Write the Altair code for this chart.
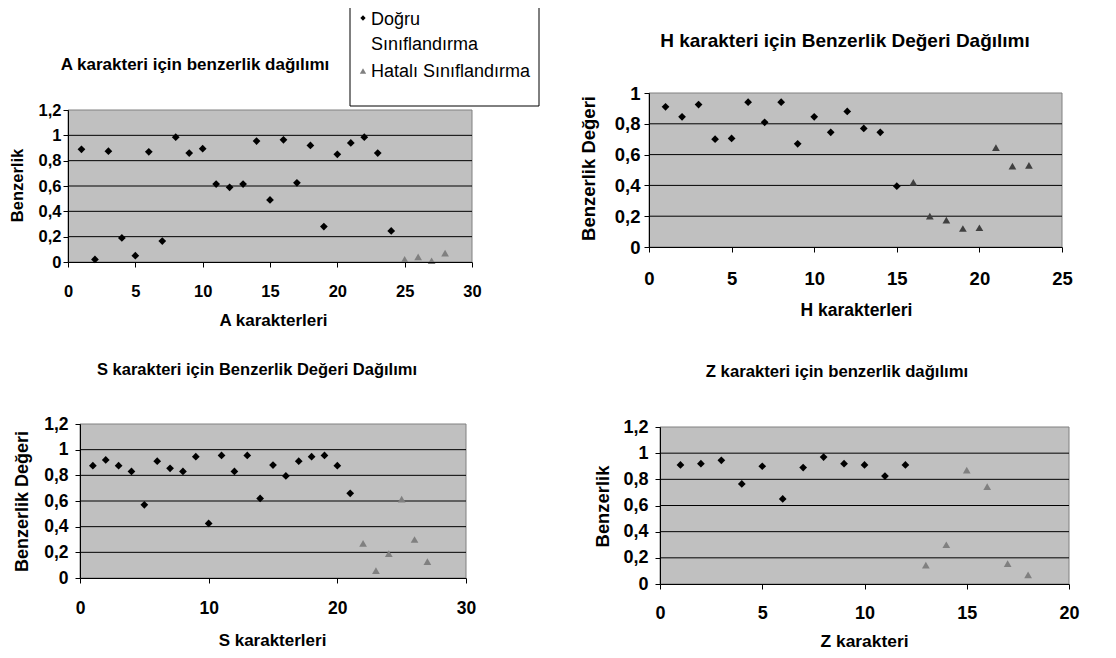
import altair as alt
import pandas as pd

FONT = "Liberation Sans"
CW, CH = 1100, 642

# ---------------- data ----------------
# A
A_x_dogru = [1, 2, 3, 4, 5, 6, 7, 8, 9, 10, 11, 12, 13, 14, 15, 16, 17, 18, 19, 20, 21, 22, 23, 24]
A_y_dogru = [0.89, 0.02, 0.875, 0.19, 0.05, 0.87, 0.165, 0.985, 0.86, 0.895, 0.615, 0.59,
             0.615, 0.955, 0.49, 0.965, 0.625, 0.92, 0.28, 0.85, 0.94, 0.985, 0.86, 0.245]
A_x_hatali = [25, 26, 27, 28]
A_y_hatali = [0.02, 0.04, 0.01, 0.07]

# H
H_x_dogru = [1, 2, 3, 4, 5, 6, 7, 8, 9, 10, 11, 12, 13, 14, 15]
H_y_dogru = [0.91, 0.845, 0.925, 0.70, 0.705, 0.94, 0.81, 0.94, 0.67, 0.845, 0.745, 0.88,
             0.77, 0.745, 0.395]
H_x_hatali = [16, 17, 18, 19, 20, 21, 22, 23]
H_y_hatali = [0.42, 0.2, 0.175, 0.12, 0.125, 0.645, 0.525, 0.53]

# S
S_x_dogru = [1, 2, 3, 4, 5, 6, 7, 8, 9, 10, 11, 12, 13, 14, 15, 16, 17, 18, 19, 20, 21]
S_y_dogru = [0.875, 0.92, 0.875, 0.83, 0.57, 0.91, 0.855, 0.83, 0.945, 0.425, 0.955, 0.83,
             0.955, 0.62, 0.88, 0.795, 0.91, 0.945, 0.955, 0.875, 0.66]
S_x_hatali = [22, 23, 24, 25, 26, 27]
S_y_hatali = [0.27, 0.057, 0.19, 0.615, 0.3, 0.127]

# Z
Z_x_dogru = [1, 2, 3, 4, 5, 6, 7, 8, 9, 10, 11, 12]
Z_y_dogru = [0.91, 0.92, 0.945, 0.765, 0.9, 0.65, 0.89, 0.97, 0.92, 0.91, 0.825, 0.91]
Z_x_hatali = [13, 14, 15, 16, 17, 18]
Z_y_hatali = [0.145, 0.3, 0.87, 0.745, 0.155, 0.07]

# titles / ticks
TITLES = ["A karakteri için benzerlik dağılımı",
          "H karakteri için Benzerlik Değeri Dağılımı",
          "S karakteri için Benzerlik Değeri Dağılımı",
          "Z karakteri için benzerlik dağılımı"]
X_TITLES = ["A karakterleri", "H karakterleri", "S karakterleri", "Z karakteri"]
Y_TITLES = ["Benzerlik", "Benzerlik Değeri", "Benzerlik Değeri", "Benzerlik"]
LEGEND = ["Doğru Sınıflandırma", "Hatalı Sınıflandırma"]

Y_TICKS_12 = [0, 0.2, 0.4, 0.6, 0.8, 1, 1.2]
Y_TICKS_10 = [0, 0.2, 0.4, 0.6, 0.8, 1]
GRID_12 = [0.2, 0.4, 0.6, 0.8, 1]
GRID_10 = [0.2, 0.4, 0.6, 0.8]
X_TICKS_A = [0, 5, 10, 15, 20, 25, 30]
X_TICKS_H = [0, 5, 10, 15, 20, 25]
X_TICKS_S = [0, 10, 20, 30]
X_TICKS_Z = [0, 5, 10, 15, 20]

LABEL_EXPR = "replace(format(datum.value, '~g'), '.', ',')"


def panel(xd, yd, xh, yh, tri_color, xmax, ymax, xticks, yticks, grid,
          box, xtitle, ytitle, xt_pos, yt_pos, tick_fs, xt_fs, yt_fs, xlp, ylp):
    left, right, top, bottom = box
    xs = alt.Scale(domain=[0, xmax], range=[left, right], nice=False, zero=False)
    ys = alt.Scale(domain=[0, ymax], range=[bottom, top], nice=False, zero=False)
    common = dict(grid=False, domainColor="black", domainWidth=1, tickColor="black",
                  tickSize=5, tickWidth=1, labelColor="black", labelFont=FONT,
                  labelFontSize=tick_fs, labelFontWeight="bold", labelFlush=False,
                  labelOverlap=False, titleFont=FONT, titleFontWeight="bold",
                  titleColor="black", titleAlign="center", titleBaseline="middle",
                  zindex=1, labelExpr=LABEL_EXPR)
    xaxis = alt.Axis(orient="bottom", offset=bottom - CH, values=xticks, title=xtitle,
                     titleX=xt_pos[0], titleY=xt_pos[1] - bottom, titleAngle=0,
                     titleFontSize=xt_fs, labelPadding=xlp, **common)
    yaxis = alt.Axis(orient="left", offset=-left, values=yticks, title=ytitle,
                     titleX=yt_pos[0] - left, titleY=yt_pos[1], titleAngle=270,
                     titleFontSize=yt_fs, labelPadding=ylp, **common)
    bg = alt.Chart(pd.DataFrame({"x0": [0], "x1": [xmax], "y0": [0], "y1": [ymax]})).mark_rect(
        fill="#c0c0c0", stroke="#808080", strokeWidth=1
    ).encode(
        x=alt.X("x0:Q", scale=xs, axis=xaxis), x2="x1:Q",
        y=alt.Y("y0:Q", scale=ys, axis=yaxis), y2="y1:Q",
    )
    gl = alt.Chart(pd.DataFrame({"x0": [0] * len(grid), "x1": [xmax] * len(grid), "y0": grid})).mark_rule(
        color="black", strokeWidth=1
    ).encode(
        x=alt.X("x0:Q", scale=xs, axis=xaxis), x2="x1:Q",
        y=alt.Y("y0:Q", scale=ys, axis=yaxis),
    )
    dia = alt.Chart(pd.DataFrame({"x0": xd, "y0": yd})).mark_point(
        shape="diamond", filled=True, color="black", size=60, opacity=1, strokeWidth=0
    ).encode(
        x=alt.X("x0:Q", scale=xs, axis=xaxis), y=alt.Y("y0:Q", scale=ys, axis=yaxis)
    )
    tri = alt.Chart(pd.DataFrame({"x0": xh, "y0": yh})).mark_point(
        shape="triangle-up", filled=True, color=tri_color, size=60, opacity=1, strokeWidth=0
    ).encode(
        x=alt.X("x0:Q", scale=xs, axis=xaxis), y=alt.Y("y0:Q", scale=ys, axis=yaxis)
    )
    return alt.layer(bg, gl, dia, tri)


pA = panel(A_x_dogru, A_y_dogru, A_x_hatali, A_y_hatali, "#808080", 30, 1.2, X_TICKS_A,
           Y_TICKS_12, GRID_12, (60, 464, 102, 254), X_TITLES[0], Y_TITLES[0],
           (265, 312), (9, 177), 16.5, 17, 16.5, 16, 2)
pH = panel(H_x_dogru, H_y_dogru, H_x_hatali, H_y_hatali, "#404040", 25, 1, X_TICKS_H,
           Y_TICKS_10, GRID_10, (641, 1054, 85, 239), X_TITLES[1], Y_TITLES[1],
           (848, 302), (580, 160), 18.5, 17.5, 18.5, 17, 4)
pS = panel(S_x_dogru, S_y_dogru, S_x_hatali, S_y_hatali, "#808080", 30, 1.2, X_TICKS_S,
           Y_TICKS_12, GRID_12, (72, 458, 416, 570), X_TITLES[2], Y_TITLES[2],
           (264, 632), (14, 493), 17.5, 17, 18, 16, 7)
pZ = panel(Z_x_dogru, Z_y_dogru, Z_x_hatali, Z_y_hatali, "#808080", 20, 1.2, X_TICKS_Z,
           Y_TICKS_12, GRID_12, (652, 1061, 419, 576), X_TITLES[3], Y_TITLES[3],
           (856, 633), (594, 498), 18, 17.4, 18.4, 15, 7)


def title_text(txt, cx, cy, fs):
    return alt.Chart(pd.DataFrame({"t": [txt]})).mark_text(
        font=FONT, fontSize=fs, fontWeight="bold", color="black", align="center", baseline="middle"
    ).encode(text="t:N", x=alt.value(cx), y=alt.value(cy))


tA = title_text(TITLES[0], 187, 57, 17)
tH = title_text(TITLES[1], 837, 33, 19)
tS = title_text(TITLES[2], 249, 362, 16.5)
tZ = title_text(TITLES[3], 829, 364, 16.7)

# legend (manual box)
leg_box = alt.Chart(pd.DataFrame({"k": [0]})).mark_rect(
    fill="white", stroke="black", strokeWidth=1
).encode(x=alt.value(342), x2=alt.value(531), y=alt.value(-10), y2=alt.value(98))
leg_dia = alt.Chart(pd.DataFrame({"k": [0]})).mark_point(
    shape="diamond", filled=True, color="black", size=28, opacity=1, strokeWidth=0
).encode(x=alt.value(355), y=alt.value(10))
leg_tri = alt.Chart(pd.DataFrame({"k": [0]})).mark_point(
    shape="triangle-up", filled=True, color="#808080", size=40, opacity=1, strokeWidth=0
).encode(x=alt.value(355), y=alt.value(63))
leg_t1 = alt.Chart(pd.DataFrame({"t": [LEGEND[0]]})).mark_text(
    font=FONT, fontSize=18, color="black", align="left", baseline="top",
    lineBreak=" ", lineHeight=25
).encode(text="t:N", x=alt.value(363), y=alt.value(2.5))
leg_t2 = alt.Chart(pd.DataFrame({"t": [LEGEND[1]]})).mark_text(
    font=FONT, fontSize=18, color="black", align="left", baseline="alphabetic"
).encode(text="t:N", x=alt.value(363), y=alt.value(69.3))

chart = alt.layer(
    pA, pH, pS, pZ, tA, tH, tS, tZ, leg_box, leg_dia, leg_tri, leg_t1, leg_t2
).resolve_scale(
    x="independent", y="independent"
).properties(
    width=CW, height=CH, padding=0,
    autosize=alt.AutoSizeParams(type="none"),
    background="white",
).configure_view(stroke=None)

chart.save("out.html", embed_options={"renderer": "svg", "actions": False})
